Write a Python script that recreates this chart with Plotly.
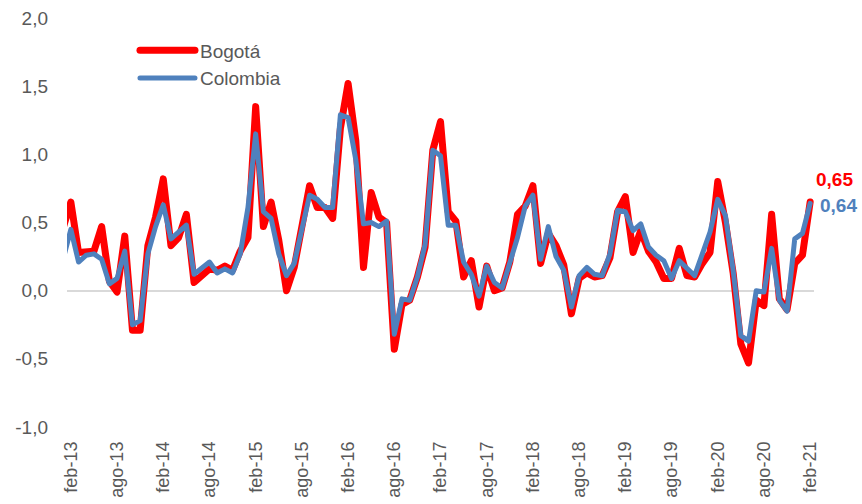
import plotly.graph_objects as go

# Monthly series (first value = ene-13, partly visible at the left edge)
meses = ["ene", "feb", "mar", "abr", "may", "jun", "jul", "ago", "sep", "oct", "nov", "dic"]
categorias = ["ene-13"] + [f"{meses[(1 + i) % 12]}-{13 + (1 + i) // 12}" for i in range(97)]

bogota = [0.46,
          0.65, 0.28, 0.28, 0.29, 0.47, 0.07, -0.01, 0.40, -0.29, -0.29, 0.33, 0.54,
          0.82, 0.33, 0.39, 0.56, 0.06, 0.11, 0.16, 0.15, 0.18, 0.15, 0.29, 0.39,
          1.35, 0.47, 0.65, 0.37, 0.00, 0.17, 0.49, 0.77, 0.61, 0.61, 0.53, 1.19,
          1.52, 1.10, 0.17, 0.72, 0.54, 0.50, -0.43, -0.10, -0.07, 0.10, 0.32, 1.03,
          1.24, 0.58, 0.51, 0.10, 0.22, -0.12, 0.18, 0.00, 0.02, 0.21, 0.56, 0.62,
          0.77, 0.20, 0.42, 0.33, 0.19, -0.17, 0.09, 0.13, 0.10, 0.11, 0.24, 0.58,
          0.69, 0.28, 0.44, 0.29, 0.21, 0.09, 0.09, 0.31, 0.11, 0.10, 0.20, 0.28,
          0.80, 0.50, 0.13, -0.39, -0.53, -0.07, -0.11, 0.56, -0.06, -0.14, 0.20, 0.26,
          0.65]

colombia = [0.23,
            0.45, 0.21, 0.26, 0.27, 0.23, 0.05, 0.09, 0.29, -0.25, -0.22, 0.27, 0.47,
            0.63, 0.38, 0.43, 0.48, 0.12, 0.17, 0.21, 0.13, 0.16, 0.13, 0.27, 0.61,
            1.15, 0.58, 0.53, 0.27, 0.11, 0.20, 0.44, 0.70, 0.67, 0.61, 0.61, 1.29,
            1.27, 0.96, 0.49, 0.50, 0.47, 0.51, -0.32, -0.06, -0.07, 0.10, 0.34, 1.03,
            0.99, 0.48, 0.48, 0.21, 0.12, -0.04, 0.18, 0.06, 0.02, 0.20, 0.39, 0.62,
            0.70, 0.23, 0.47, 0.25, 0.15, -0.12, 0.11, 0.17, 0.12, 0.11, 0.27, 0.59,
            0.58, 0.44, 0.49, 0.32, 0.26, 0.22, 0.09, 0.22, 0.16, 0.11, 0.27, 0.43,
            0.67, 0.55, 0.15, -0.33, -0.37, 0.00, -0.01, 0.31, -0.07, -0.15, 0.38, 0.42,
            0.64]

x_ticks = [c for c in categorias[1:] if c.startswith("feb") or c.startswith("ago")]
y_ticks = [-1.0, -0.5, 0.0, 0.5, 1.0, 1.5, 2.0]
y_ticktext = ["-1,0", "-0,5", "0,0", "0,5", "1,0", "1,5", "2,0"]
ultimo_bogota = "0,65"
ultimo_colombia = "0,64"

RED = "#FF0000"
BLUE = "#4F81BD"
GREY = "#595959"
FONT = "Liberation Sans, Arial, sans-serif"

fig = go.Figure()
fig.add_trace(go.Scatter(x=categorias, y=bogota, name="Bogotá", mode="lines",
                         line=dict(color=RED, width=7)))
fig.add_trace(go.Scatter(x=categorias, y=colombia, name="Colombia", mode="lines",
                         line=dict(color=BLUE, width=5)))

fig.add_annotation(x=categorias[-1], y=bogota[-1], text=f"<b>{ultimo_bogota}</b>",
                   showarrow=False, xanchor="left", yanchor="middle", xshift=4, yshift=23,
                   font=dict(color=RED, size=19, family=FONT))
fig.add_annotation(x=categorias[-1], y=colombia[-1], text=f"<b>{ultimo_colombia}</b>",
                   showarrow=False, xanchor="left", yanchor="middle", xshift=8, yshift=-2,
                   font=dict(color=BLUE, size=19, family=FONT))

fig.update_layout(
    width=862, height=504,
    margin=dict(l=67, r=48, t=18, b=77),
    paper_bgcolor="white", plot_bgcolor="white",
    font=dict(family=FONT, color=GREY, size=19),
    showlegend=True,
    legend=dict(x=0.091, y=0.967, xanchor="left", yanchor="top",
                font=dict(size=19, color=GREY, family=FONT),
                bgcolor="rgba(0,0,0,0)", itemwidth=55, tracegroupgap=0),
)
fig.update_xaxes(type="category", range=[0.5, 97.5], tickmode="array", tickvals=x_ticks,
                 ticktext=x_ticks, tickangle=-90, showgrid=False, showline=False,
                 ticks="", tickfont=dict(size=18, color=GREY), automargin=False,
                 ticklabelstandoff=10)
fig.update_yaxes(range=[-1.0, 2.0], tickmode="array", tickvals=y_ticks, ticktext=y_ticktext,
                 showgrid=False, zeroline=True, zerolinecolor="#D9D9D9", zerolinewidth=1.5,
                 showline=False, ticks="", tickfont=dict(size=19, color=GREY),
                 automargin=False, ticklabelstandoff=18)

post = """
document.body.style.margin='0';
document.querySelectorAll('.js-line').forEach(function(p){p.style.strokeLinejoin='round';p.style.strokeLinecap='round';});
document.querySelectorAll('.legendlines path').forEach(function(p){p.style.strokeLinecap='round';});
"""
fig.write_html("out.html", post_script=post, config={"displayModeBar": False})
